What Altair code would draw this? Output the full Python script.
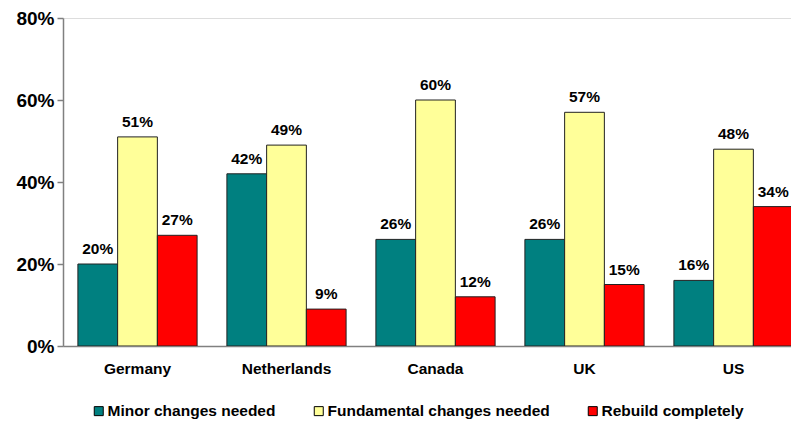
import altair as alt
import pandas as pd

countries = ["Germany", "Netherlands", "Canada", "UK", "US"]
series = ["Minor changes needed", "Fundamental changes needed", "Rebuild completely"]
minor = [20, 42, 26, 26, 16]
fundamental = [51, 49, 60, 57, 48]
rebuild = [27, 9, 12, 15, 34]
colors = ["#008080", "#FFFF99", "#FF0000"]
y_ticks = [0, 0.2, 0.4, 0.6, 0.8]

rows = []
for i, c in enumerate(countries):
    for s, vals in zip(series, [minor, fundamental, rebuild]):
        rows.append({"country": c, "series": s, "value": vals[i] / 100.0,
                     "label": f"{vals[i]}%"})
df = pd.DataFrame(rows)

FONT = "Liberation Sans"

x = alt.X("country:N", sort=countries, title=None,
          scale=alt.Scale(range=[0, 745], paddingInner=0.2, paddingOuter=0.1),
          axis=alt.Axis(labelAngle=0, ticks=False, labelFont=FONT, labelFontSize=15.5,
                        labelFontWeight="bold", labelColor="black", labelPadding=15,
                        domainColor="#808080", domainWidth=1.5))
xo = alt.XOffset("series:N", sort=series, scale=alt.Scale(paddingInner=0, paddingOuter=0))
y = alt.Y("value:Q", title=None,
          scale=alt.Scale(domain=[0, 0.8], nice=False),
          axis=alt.Axis(values=y_ticks, format=".0%", grid=False, labelFont=FONT,
                        labelFontSize=19, labelFontWeight="bold", labelColor="black",
                        tickSize=6, labelPadding=3, tickColor="#808080",
                        domainColor="#808080", domainWidth=1.5, tickWidth=1.5))

bars = alt.Chart(df).mark_bar(stroke="#222222", strokeWidth=1, clip=True).encode(
    x=x, xOffset=xo, y=y,
    color=alt.Color("series:N", sort=series,
                    scale=alt.Scale(domain=series, range=colors),
                    legend=alt.Legend(title=None, orient="none", legendX=28, legendY=385,
                                      direction="horizontal", columns=3, columnPadding=35,
                                      labelFont=FONT, labelFontSize=15.5, labelLimit=0,
                                      labelFontWeight="bold", labelColor="black",
                                      symbolType="square", symbolSize=81,
                                      symbolStrokeColor="black", symbolStrokeWidth=1,
                                      symbolOpacity=1, labelOffset=1, padding=0)),
)

labels = alt.Chart(df).mark_text(font=FONT, fontSize=15.5, fontWeight="bold",
                                 color="black", baseline="alphabetic", dy=-10,
                                 clip=True).encode(
    x=alt.X("country:N", sort=countries),
    xOffset=alt.XOffset("series:N", sort=series),
    y=alt.Y("value:Q"),
    text="label:N",
)

chart = alt.layer(bars, labels).properties(
    width=728, height=328,
    autosize=alt.AutoSizeParams(type="none"),
    padding={"left": 63, "top": 18, "right": 0, "bottom": 76},
).configure_view(stroke=None).configure(background="white")

chart.save("out.html", embed_options={"renderer": "svg", "actions": False})
